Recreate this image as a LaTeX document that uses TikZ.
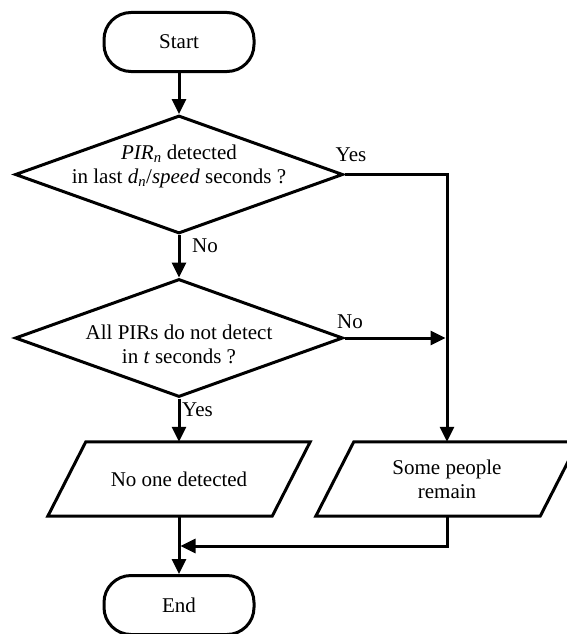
\documentclass[tikz,border=0pt]{standalone}
\usepackage{fontspec}
\setmainfont{Liberation Serif}
\usetikzlibrary{shapes.geometric,arrows.meta}
\tikzset{
  x=1pt, y=-1pt,
  every node/.style={font=\fontsize{21}{24}\selectfont},
  flow/.style={line width=3pt},
  arr/.style={flow, -{Triangle[length=15pt,width=14pt]}},
  terminal/.style={draw, line width=3pt, rectangle, rounded corners=27pt,
    minimum width=150pt, minimum height=59pt, inner sep=0pt},
  decision/.style={draw, line width=3pt, diamond, minimum width=328pt,
    minimum height=118pt, inner sep=0pt},
  io/.style={rectangle, minimum width=224pt, minimum height=74pt,
    inner sep=0pt, align=center},
  iobox/.style={draw, line width=3pt, line join=miter},
  txt/.style={align=center, inner sep=0pt},
  lbl/.style={inner sep=0pt}
}
\begin{document}
\begin{tikzpicture}
\useasboundingbox (0,0) rectangle (567,634);
\node[terminal] (start) at (179,42) {Start};
\node[decision] (d1) at (179,174.5) {};
\node[txt] (d1t) at (179,166) {\textit{PIR\textsubscript{n}} detected\\in last \textit{d\textsubscript{n}}/\textit{speed} seconds ?};
\node[decision] (d2) at (179,338) {};
\node[txt] (d2t) at (179,344) {All PIRs do not detect\\in \textit{t} seconds ?};
\node[io] (p1) at (179,479) {No one detected};
\node[io] (p2) at (447,479) {Some people\\remain};
\node[terminal] (end) at (179,605) {End};

\foreach \p in {p1,p2}{
  \draw[iobox] ([xshift=19pt]\p.north west) -- ([xshift=19pt]\p.north east)
    -- ([xshift=-19pt]\p.south east) -- ([xshift=-19pt]\p.south west) -- cycle;
}

\coordinate (c1) at (447,174.5);
\coordinate (c2) at (447,338);
\coordinate (c3) at (447,546);
\coordinate (c4) at (179,546);

\draw[arr] (start) -- (d1.north);
\draw[arr] (d1.south) -- (d2.north);
\draw[arr] (d1.east) -- (c1) -- (p2.north);
\draw[arr, shorten >=1.5pt] (d2.east) -- (c2);
\draw[arr] (d2.south) -- (p1.north);
\draw[arr] (p1.south) -- (end.north);
\draw[arr, shorten >=1.5pt] (p2.south) -- (c3) -- (c4);

\node[lbl, anchor=center] (yes1) at (351,155) {Yes};
\node[lbl, anchor=west] (no1) at (192,246) {No};
\node[lbl, anchor=center] (no2) at (350,322) {No};
\node[lbl, anchor=west] (yes2) at (182,410) {Yes};
\end{tikzpicture}
\end{document}
